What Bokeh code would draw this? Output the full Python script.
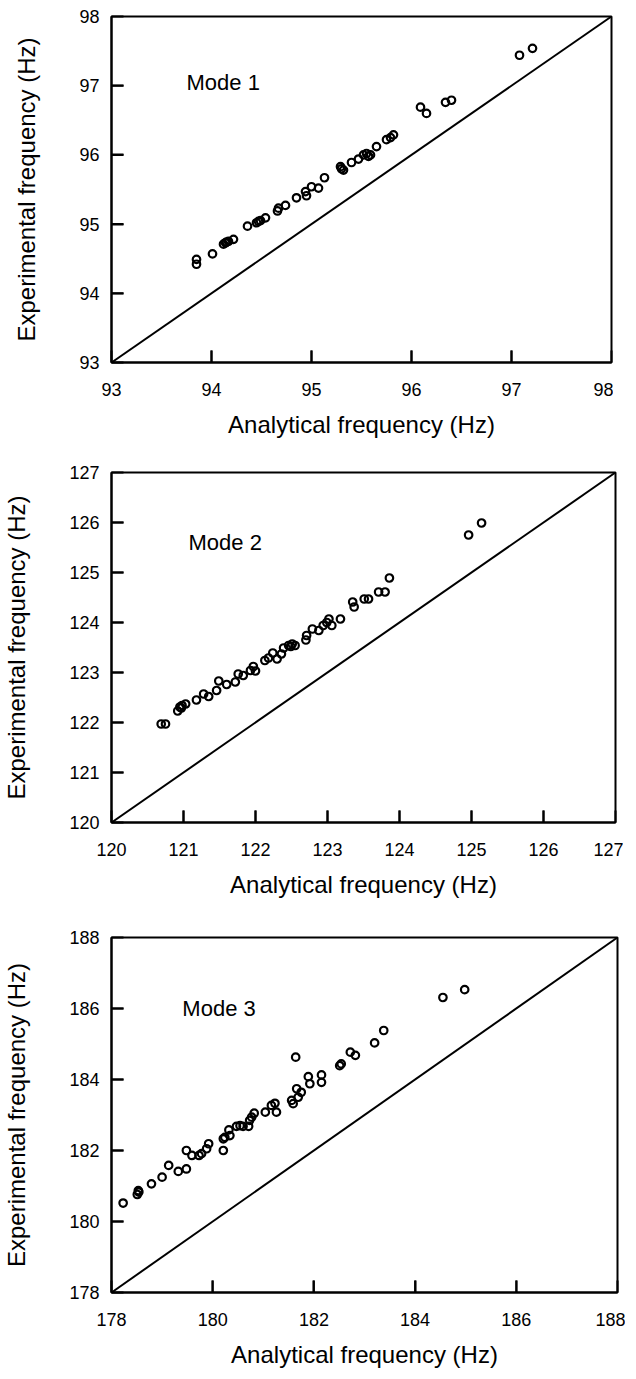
from bokeh.plotting import figure
from bokeh.models import FixedTicker, Label, Range1d, Slope
from bokeh.layouts import column
from bokeh.embed import file_html
from bokeh.resources import INLINE

# ---- data ----
mode1_analytical = [93.85, 93.85, 94.01, 94.12, 94.14, 94.15, 94.17, 94.22, 94.36, 94.45, 94.47, 94.49, 94.54,
                    94.66, 94.67, 94.74, 94.85, 94.94, 94.95, 95.00, 95.07, 95.13, 95.29, 95.30, 95.32, 95.40,
                    95.47, 95.52, 95.55, 95.57, 95.59, 95.65, 95.75, 95.79, 95.82, 96.09, 96.15, 96.34, 96.40,
                    97.08, 97.21]
mode1_experimental = [94.49, 94.42, 94.57, 94.71, 94.73, 94.74, 94.75, 94.78, 94.97, 95.02, 95.04, 95.05, 95.09,
                      95.19, 95.23, 95.27, 95.38, 95.47, 95.41, 95.54, 95.52, 95.67, 95.83, 95.80, 95.78, 95.89,
                      95.94, 96.00, 96.02, 95.98, 96.00, 96.12, 96.22, 96.25, 96.29, 96.69, 96.60, 96.76, 96.79,
                      97.44, 97.54]

mode2_analytical = [120.69, 120.75, 120.92, 120.95, 120.97, 120.98, 121.03, 121.18, 121.28, 121.35, 121.46, 121.49,
                    121.60, 121.72, 121.76, 121.83, 121.93, 121.97, 122.00, 122.13, 122.18, 122.24, 122.30, 122.36,
                    122.39, 122.46, 122.49, 122.51, 122.55, 122.70, 122.71, 122.79, 122.88, 122.94, 122.99, 123.02,
                    123.06, 123.18, 123.35, 123.37, 123.51, 123.57, 123.71, 123.80, 123.86, 124.96, 125.14]
mode2_experimental = [121.97, 121.97, 122.23, 122.31, 122.29, 122.34, 122.37, 122.45, 122.57, 122.52, 122.64, 122.83,
                      122.76, 122.81, 122.97, 122.94, 123.04, 123.12, 123.03, 123.24, 123.29, 123.39, 123.27, 123.37,
                      123.49, 123.54, 123.52, 123.57, 123.54, 123.65, 123.74, 123.87, 123.84, 123.94, 124.00, 124.07,
                      123.94, 124.07, 124.41, 124.31, 124.47, 124.47, 124.61, 124.61, 124.89, 125.75, 125.99]

mode3_analytical = [178.23, 178.51, 178.54, 178.53, 178.79, 179.00, 179.13, 179.32, 179.48, 179.48, 179.59, 179.73,
                    179.78, 179.88, 179.92, 180.21, 180.21, 180.24, 180.34, 180.32, 180.47, 180.54, 180.60, 180.71,
                    180.73, 180.77, 180.82, 181.04, 181.16, 181.23, 181.26, 181.56, 181.59, 181.66, 181.69, 181.75,
                    181.64, 181.89, 181.92, 182.15, 182.15, 182.51, 182.54, 182.72, 182.82, 183.20, 183.38, 184.55,
                    184.98]
mode3_experimental = [180.52, 180.76, 180.83, 180.87, 181.06, 181.25, 181.58, 181.41, 181.48, 182.00, 181.86, 181.86,
                      181.91, 182.05, 182.19, 182.00, 182.33, 182.37, 182.42, 182.58, 182.68, 182.70, 182.68, 182.68,
                      182.85, 182.94, 183.05, 183.08, 183.27, 183.33, 183.08, 183.41, 183.32, 183.74, 183.50, 183.64,
                      184.63, 184.08, 183.88, 184.13, 183.92, 184.39, 184.44, 184.77, 184.68, 185.03, 185.38, 186.31,
                      186.53]

mode1_ticks = [93, 94, 95, 96, 97, 98]
mode2_ticks = [120, 121, 122, 123, 124, 125, 126, 127]
mode3_ticks = [178, 180, 182, 184, 186, 188]

FONT = "Liberation Sans"
TICK_PX = 12


def make_panel(xs, ys, ticks, title, label_xy, frame_w, frame_h, b_left, b_top, b_bottom):
    lo, hi = ticks[0], ticks[-1]
    p = figure(frame_width=frame_w, frame_height=frame_h,
               x_range=Range1d(lo, hi), y_range=Range1d(lo, hi),
               output_backend="svg", toolbar_location=None,
               min_border_left=b_left, min_border_top=b_top,
               min_border_bottom=b_bottom, min_border_right=8,
               background_fill_color="white", border_fill_color="white")
    p.grid.visible = False
    p.outline_line_color = "black"
    p.outline_line_width = 2
    p.outline_line_alpha = 1.0

    for ax in (p.xaxis[0], p.yaxis[0]):
        ax.ticker = FixedTicker(ticks=ticks)
        ax.major_tick_in = TICK_PX
        ax.major_tick_out = 0
        ax.minor_tick_line_color = None
        ax.axis_line_width = 2
        ax.axis_line_color = "black"
        ax.major_tick_line_width = 2
        ax.major_tick_line_color = "black"
        ax.major_label_text_font = FONT
        ax.major_label_text_font_size = "18px"
        ax.major_label_text_color = "black"
        ax.axis_label_text_font = FONT
        ax.axis_label_text_font_size = "24px"
        ax.axis_label_text_font_style = "normal"
        ax.axis_label_text_color = "black"

    p.xaxis.axis_label = "Analytical frequency (Hz)"
    p.yaxis.axis_label = "Experimental frequency (Hz)"
    p.xaxis.major_label_standoff = 20
    p.xaxis.axis_label_standoff = 12
    p.yaxis.major_label_standoff = 12
    p.yaxis.axis_label_standoff = 36

    # inward tick marks (drawn explicitly so they are surely visible)
    inner = ticks[1:-1]
    dy = TICK_PX / frame_h * (hi - lo)
    dx = TICK_PX / frame_w * (hi - lo)
    p.segment(x0=inner, y0=[lo] * len(inner), x1=inner, y1=[lo + dy] * len(inner),
              line_color="black", line_width=2)
    p.segment(x0=[lo] * len(inner), y0=inner, x1=[lo + dx] * len(inner), y1=inner,
              line_color="black", line_width=2)

    p.add_layout(Slope(gradient=1, y_intercept=0, line_color="black", line_width=2))

    p.scatter(xs, ys, size=7.5, marker="circle", fill_color=None,
              line_color="black", line_width=2.2)

    p.add_layout(Label(x=label_xy[0], y=label_xy[1], text=title, text_font=FONT,
                       text_font_size="22px", text_baseline="middle", text_align="left",
                       text_color="black"))
    return p


p1 = make_panel(mode1_analytical, mode1_experimental, mode1_ticks, "Mode 1", (93.75, 97.05),
                500, 346, 105, 16, 98)
p2 = make_panel(mode2_analytical, mode2_experimental, mode2_ticks, "Mode 2", (121.07, 125.6),
                504, 350, 105, 12, 103)
p3 = make_panel(mode3_analytical, mode3_experimental, mode3_ticks, "Mode 3", (179.4, 186.0),
                506, 355, 99, 12, 76)

layout = column(p1, p2, p3, spacing=0)

open("out.html", "w").write(file_html(layout, INLINE))
